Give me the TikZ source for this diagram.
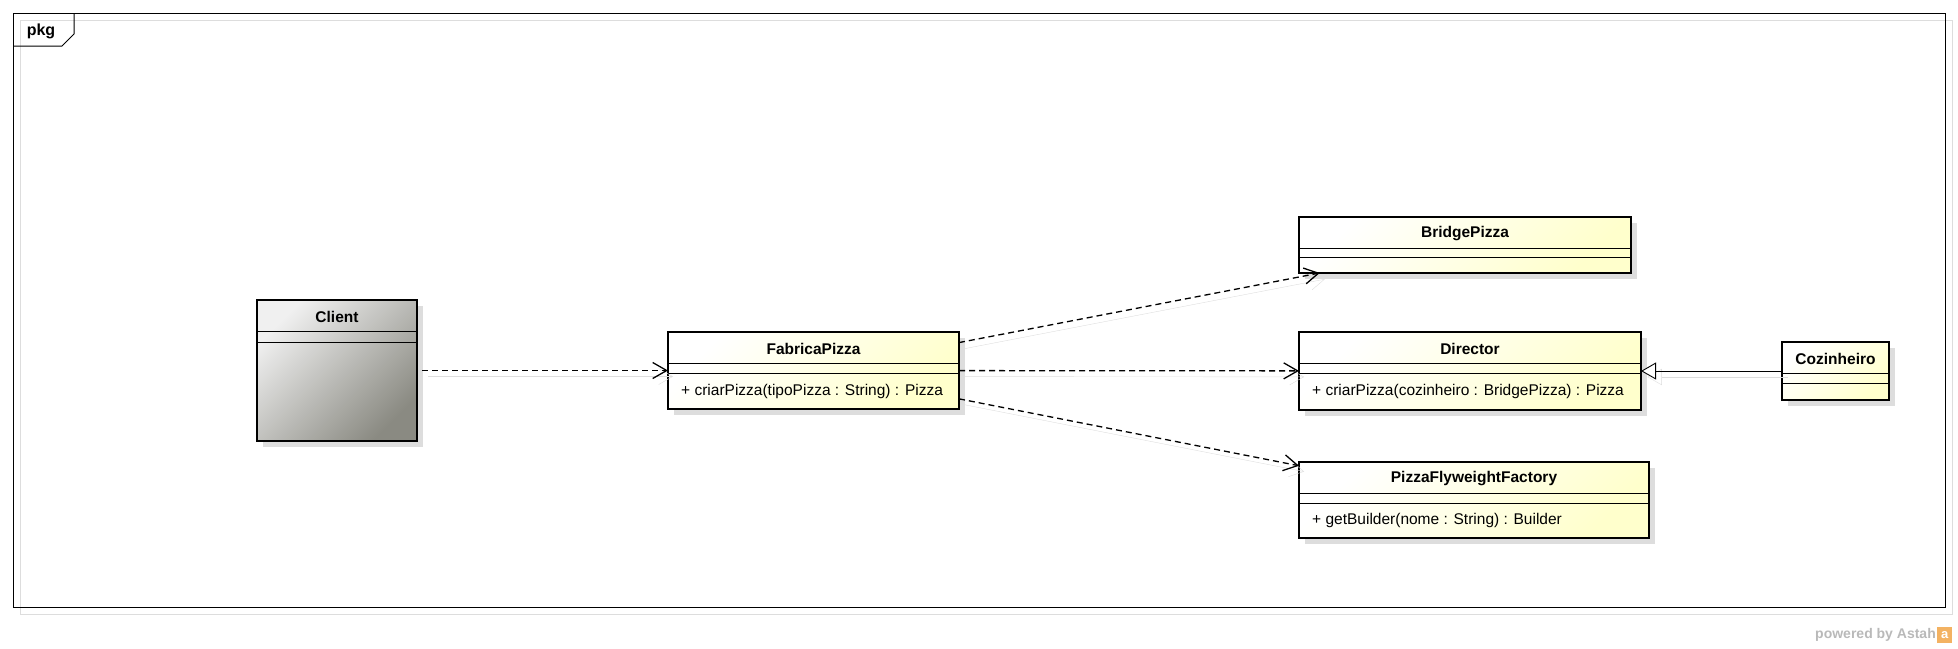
\documentclass[tikz,border=0pt]{standalone}
\usepackage{fontspec}
\setmainfont{Liberation Sans}
\usepackage{tikz}
\usetikzlibrary{arrows.meta,shadows}
\definecolor{clsyellow}{RGB}{255,255,204}
\definecolor{clientlight}{RGB}{240,240,240}
\definecolor{clientdark}{RGB}{138,138,130}
\definecolor{shadowgray}{RGB}{221,221,221}
\definecolor{astahorange}{RGB}{243,178,98}

\begin{document}
\begin{tikzpicture}[x=1pt, y=-1pt,
    cls/.style={rectangle, draw, line width=2.5pt, inner sep=0pt, outer sep=0pt, anchor=north west,
        top color=white, bottom color=clsyellow, shading angle=45,
        drop shadow={shadow xshift=6pt, shadow yshift=-6pt, fill=shadowgray, opacity=1}},
    clientcls/.style={cls, top color=clientlight, bottom color=clientdark, shading angle=45},
    ctitle/.style={font=\fontsize{15.5}{18}\selectfont\bfseries, inner sep=0pt},
    cop/.style={font=\fontsize{15.5}{18}\selectfont, inner sep=0pt, anchor=west},
    sep/.style={line width=1pt},
    dep/.style={line width=1.3pt, dash pattern=on 6pt off 4pt, -{Straight Barb[length=14pt, width=16pt]},
        preaction={draw=shadowgray, solid, transform canvas={xshift=6pt, yshift=-6pt}}},
    gen/.style={line width=0.9pt, -{Triangle[open, length=15pt, width=17pt, fill=white]},
        preaction={draw=shadowgray, transform canvas={xshift=6pt, yshift=-6pt}}}]

    \useasboundingbox (0,0) rectangle (1958,648);

    % package frame
    \draw[shadowgray, line width=1pt] (20,20) rectangle (1952,614);
    \node[draw, line width=1pt, inner sep=0pt, outer sep=0pt, anchor=north west,
        minimum width=1932pt, minimum height=594pt] (pkgframe) at (13,13) {};
    \draw[line width=1pt] (13,46) -- (62,46) -- (74,34) -- (74,13);
    \node[font=\fontsize{16}{18}\selectfont\bfseries, inner sep=0pt] (pkglabel) at (41,31) {pkg};

    % classes
    \node[clientcls, minimum width=160pt, minimum height=141pt] (client) at (257,300) {};
    \node[cls, minimum width=291pt, minimum height=77pt] (fabrica) at (668,332) {};
    \node[cls, minimum width=332pt, minimum height=56pt] (bridge) at (1299,217) {};
    \node[cls, minimum width=342pt, minimum height=78pt] (director) at (1299,332) {};
    \node[cls, minimum width=107pt, minimum height=58pt] (cozinheiro) at (1782,342) {};
    \node[cls, minimum width=350pt, minimum height=76pt] (flyweight) at (1299,462) {};

    \draw[sep] ([yshift=-31pt]client.north west) -- ([yshift=-31pt]client.north east)
        ([yshift=-42pt]client.north west) -- ([yshift=-42pt]client.north east);
    \draw[sep] ([yshift=-31pt]fabrica.north west) -- ([yshift=-31pt]fabrica.north east)
        ([yshift=-41pt]fabrica.north west) -- ([yshift=-41pt]fabrica.north east);
    \draw[sep] ([yshift=-31pt]bridge.north west) -- ([yshift=-31pt]bridge.north east)
        ([yshift=-40pt]bridge.north west) -- ([yshift=-40pt]bridge.north east);
    \draw[sep] ([yshift=-31pt]director.north west) -- ([yshift=-31pt]director.north east)
        ([yshift=-41pt]director.north west) -- ([yshift=-41pt]director.north east);
    \draw[sep] ([yshift=-31pt]cozinheiro.north west) -- ([yshift=-31pt]cozinheiro.north east)
        ([yshift=-41pt]cozinheiro.north west) -- ([yshift=-41pt]cozinheiro.north east);
    \draw[sep] ([yshift=-31pt]flyweight.north west) -- ([yshift=-31pt]flyweight.north east)
        ([yshift=-41pt]flyweight.north west) -- ([yshift=-41pt]flyweight.north east);

    \node[ctitle] (clientname) at ([yshift=-17pt]client.north) {Client};
    \node[ctitle] (fabricaname) at ([yshift=-17pt]fabrica.north) {FabricaPizza};
    \node[ctitle] (bridgename) at ([yshift=-17pt]bridge.north) {BridgePizza};
    \node[ctitle] (directorname) at ([yshift=-17pt]director.north) {Director};
    \node[ctitle] (cozinheironame) at ([yshift=-17pt]cozinheiro.north) {Cozinheiro};
    \node[ctitle] (flyweightname) at ([yshift=-17pt]flyweight.north) {PizzaFlyweightFactory};

    \node[cop] (fabricaop) at ([xshift=13pt, yshift=-59pt]fabrica.north west) {+ criarPizza(tipoPizza : String) : Pizza};
    \node[cop] (directorop) at ([xshift=13pt, yshift=-59pt]director.north west) {+ criarPizza(cozinheiro : BridgePizza) : Pizza};
    \node[cop] (flyweightop) at ([xshift=13pt, yshift=-58pt]flyweight.north west) {+ getBuilder(nome : String) : Builder};

    % relations
    \draw[dep, shorten <=5pt] (client) -- (fabrica);
    \draw[dep] (fabrica) -- (bridge);
    \draw[dep] (fabrica) -- (director);
    \draw[dep] (fabrica) -- (flyweight);
    \draw[gen] (cozinheiro) -- (director);

    % footer
    \node[font=\fontsize{14}{16}\selectfont\bfseries, text=gray!55, inner sep=0pt, anchor=east] (powered) at (1936,635) {powered by Astah};
    \node[fill=astahorange, text=white, inner sep=0pt, anchor=west, minimum width=15pt, minimum height=16pt,
        font=\fontsize{13}{13}\selectfont\bfseries] (astahlogo) at (1937,635) {a};
\end{tikzpicture}
\end{document}
